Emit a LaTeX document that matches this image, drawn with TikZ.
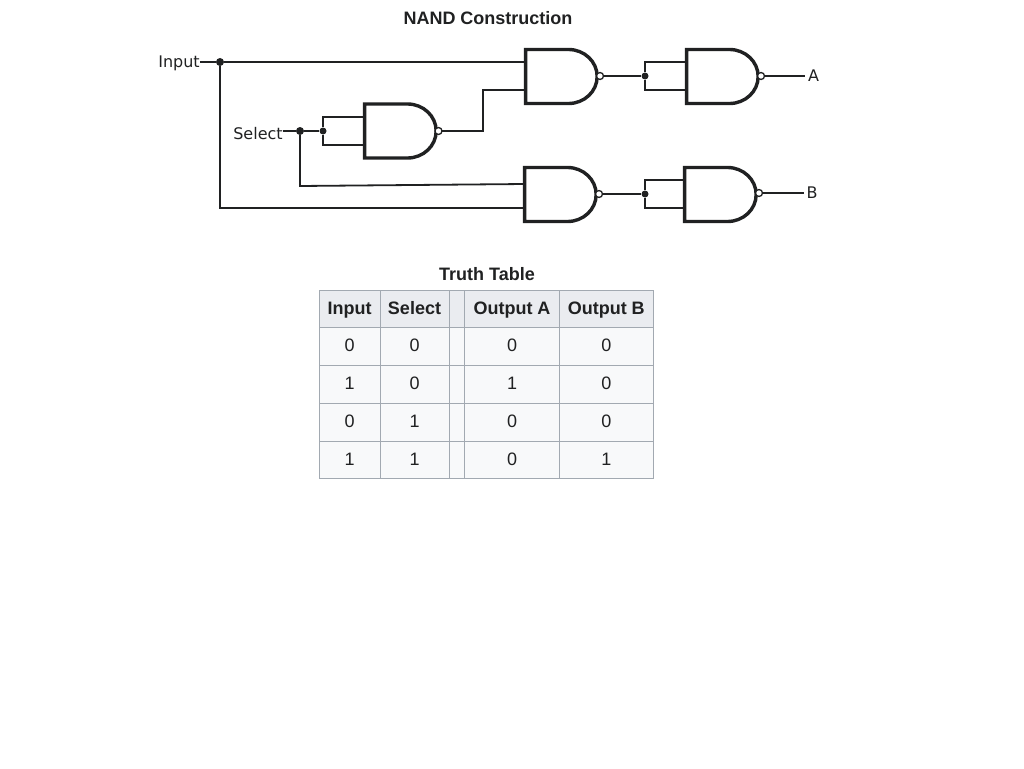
\documentclass[tikz,border=0pt]{standalone}
\usepackage{fontspec}
\setmainfont{Liberation Sans}
\newfontfamily\lblfont{DejaVu Sans}
\usetikzlibrary{shapes.gates.logic.US}
\definecolor{ink}{HTML}{202122}
\definecolor{edge}{HTML}{A2A9B1}
\definecolor{headbg}{HTML}{EAECF0}
\definecolor{cellbg}{HTML}{F8F9FA}
\tikzstyle{gt}=[and gate US,logic gate inputs=nn,draw=ink,line width=3.4pt,inner sep=0pt,outer sep=0pt,logic gate input sep=18pt,xscale=1.06,transform shape]
\tikzstyle{bub}=[circle,draw=ink,fill=white,line width=1.3pt,minimum size=7pt,inner sep=0pt,outer sep=0pt]
\tikzstyle{dot}=[circle,fill=ink,minimum size=8pt,inner sep=0pt]
\tikzstyle{tap}=[circle,fill=ink,minimum size=7pt,inner sep=0pt]
\tikzstyle{wire}=[draw=ink,line width=1.8pt]
\tikzstyle{lbl}=[text=ink,font=\lblfont\fontsize{16}{18}\selectfont,inner sep=0pt]
\tikzstyle{ttl}=[text=ink,font=\bfseries\fontsize{18}{20}\selectfont,inner sep=0pt]
\tikzstyle{hd}=[draw=edge,fill=headbg,text=ink,line width=1pt,font=\bfseries\fontsize{18}{20}\selectfont,inner sep=0pt,minimum height=37pt,text height=13pt,text depth=2pt]
\tikzstyle{cl}=[draw=edge,fill=cellbg,text=ink,line width=1pt,font=\fontsize{18}{20}\selectfont,inner sep=0pt,minimum height=38pt,text height=13pt,text depth=2pt]
\begin{document}
\begin{tikzpicture}[x=1pt,y=-1pt]
\useasboundingbox (0,0) rectangle (1024,768);
\node[ttl] (title) at (488,18) {NAND Construction};
% gates
\node[gt] (g1) at (559,76.5) {};
\node[gt] (g2) at (720,76.5) {};
\node[gt] (g3) at (398,131) {};
\node[gt] (g4) at (558,194.5) {};
\node[gt] (g5) at (718,194.5) {};
\node[bub] (b1) at (600,76) {};
\node[bub] (b2) at (761,76) {};
\node[bub] (b3) at (438.5,131) {};
\node[bub] (b4) at (599,194) {};
\node[bub] (b5) at (759,193) {};
% labels
\node[lbl] (in) at (179,63.5) {Input};
\node[lbl] (sel) at (258,134) {Select};
\node[lbl,outer sep=3pt] (outa) at (813.5,76) {A};
\node[lbl,outer sep=3pt] (outb) at (812,193) {B};
% junctions
\node[dot] (j1) at (220,62) {};
\node[dot] (j2) at (300,131) {};
\node[tap] (j3) at (323,131) {};
\node[tap] (j4) at (645,76) {};
\node[tap] (j5) at (645,194) {};
% gate pins
\coordinate (p1a) at (526,62); \coordinate (p1b) at (526,90);
\coordinate (p2a) at (687,62); \coordinate (p2b) at (687,90);
\coordinate (p3a) at (365,117); \coordinate (p3b) at (365,145);
\coordinate (p4a) at (525,184); \coordinate (p4b) at (525,208);
\coordinate (p5a) at (685,180); \coordinate (p5b) at (685,208);
% wires
\draw[wire] (in.east |- j1) -- (j1) -- (p1a);
\draw[wire] (j1) |- (p4b);
\draw[wire] (sel.east |- j2) -- (j2) -- (j3);
\draw[wire] (j2) -- (300,186) -- (p4a);
\draw[wire] (j3) |- (p3a);
\draw[wire] (j3) |- (p3b);
\draw[wire] (b3) -- (483,131) |- (p1b);
\draw[wire] (b1) -- (j4);
\draw[wire] (j4) |- (p2a);
\draw[wire] (j4) |- (p2b);
\draw[wire] (b2) -- (outa.west);
\draw[wire] (b4) -- (j5);
\draw[wire] (j5) |- (p5a);
\draw[wire] (j5) |- (p5b);
\draw[wire] (b5) -- (outb.west);
% table
\node[ttl] (tt) at (487,274) {Truth Table};
\node[hd,minimum width=61pt] (h1) at (349.5,308.5) {Input};
\node[hd,minimum width=69pt] (h2) at (414.5,308.5) {Select};
\node[hd,minimum width=16pt] (h3) at (457,308.5) {};
\node[hd,minimum width=94.5pt] (h4) at (512,308.5) {Output A};
\node[hd,minimum width=94.5pt] (h5) at (606.25,308.5) {Output B};
\node[cl,minimum width=61pt] (a1) at (349.5,346) {0};
\node[cl,minimum width=69pt] (a2) at (414.5,346) {0};
\node[cl,minimum width=16pt] (a3) at (457,346) {};
\node[cl,minimum width=94.5pt] (a4) at (512,346) {0};
\node[cl,minimum width=94.5pt] (a5) at (606.25,346) {0};
\node[cl,minimum width=61pt] (c1) at (349.5,384) {1};
\node[cl,minimum width=69pt] (c2) at (414.5,384) {0};
\node[cl,minimum width=16pt] (c3) at (457,384) {};
\node[cl,minimum width=94.5pt] (c4) at (512,384) {1};
\node[cl,minimum width=94.5pt] (c5) at (606.25,384) {0};
\node[cl,minimum width=61pt] (d1) at (349.5,422) {0};
\node[cl,minimum width=69pt] (d2) at (414.5,422) {1};
\node[cl,minimum width=16pt] (d3) at (457,422) {};
\node[cl,minimum width=94.5pt] (d4) at (512,422) {0};
\node[cl,minimum width=94.5pt] (d5) at (606.25,422) {0};
\node[cl,minimum width=61pt,minimum height=37pt] (e1) at (349.5,459.5) {1};
\node[cl,minimum width=69pt,minimum height=37pt] (e2) at (414.5,459.5) {1};
\node[cl,minimum width=16pt,minimum height=37pt] (e3) at (457,459.5) {};
\node[cl,minimum width=94.5pt,minimum height=37pt] (e4) at (512,459.5) {0};
\node[cl,minimum width=94.5pt,minimum height=37pt] (e5) at (606.25,459.5) {1};
\end{tikzpicture}
\end{document}
